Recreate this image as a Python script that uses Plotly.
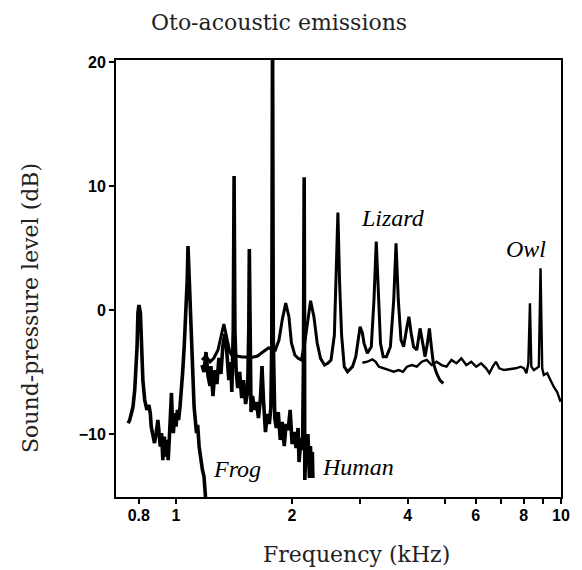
import plotly.graph_objects as go
import math

# ---------------- data (kHz, dB) ----------------
frog_khz = [0.751, 0.758, 0.766, 0.773, 0.781, 0.789, 0.792, 0.796, 0.801, 0.808,
            0.813, 0.820, 0.829, 0.840, 0.850, 0.857, 0.862, 0.870, 0.879, 0.888,
            0.897, 0.902, 0.910, 0.917, 0.924, 0.932, 0.939, 0.946, 0.954, 0.961,
            0.967, 0.973, 0.978, 0.984, 0.992, 1.000, 1.008, 1.015, 1.024, 1.032,
            1.040, 1.050, 1.061, 1.069, 1.074, 1.081, 1.090, 1.103, 1.114, 1.130,
            1.138, 1.148, 1.160, 1.171, 1.182, 1.189, 1.194]
frog_db = [-9.14, -8.87, -8.31, -7.80, -6.45, -4.27, -2.96, -0.24, 0.40, -0.24,
           -2.96, -5.65, -7.26, -8.06, -7.66, -8.31, -9.41, -10.22, -10.73, -9.92,
           -8.87, -9.68, -11.02, -9.92, -12.10, -10.22, -11.83, -10.48, -12.10, -10.22,
           -8.31, -6.69, -8.87, -9.92, -8.31, -9.41, -8.06, -8.87, -7.80, -6.69,
           -5.08, -2.96, -0.24, 2.42, 5.16, 2.82, -0.24, -4.27, -7.80, -9.92,
           -9.27, -11.02, -12.10, -12.90, -13.44, -14.25, -15.30]

human_khz = [1.168, 1.182, 1.196, 1.211, 1.225, 1.232, 1.247, 1.262, 1.277, 1.292,
             1.308, 1.323, 1.339, 1.355, 1.371, 1.387, 1.396, 1.408, 1.415, 1.422,
             1.433, 1.446, 1.463, 1.481, 1.498, 1.516, 1.534, 1.545, 1.550, 1.557,
             1.566, 1.580, 1.599, 1.618, 1.637, 1.657, 1.672, 1.687, 1.707, 1.727,
             1.747, 1.763, 1.773, 1.781, 1.789, 1.805, 1.821, 1.843, 1.865, 1.887,
             1.910, 1.932, 1.955, 1.979, 2.002, 2.026, 2.050, 2.075, 2.087, 2.112,
             2.131, 2.143, 2.152, 2.160, 2.175, 2.201, 2.221, 2.234, 2.247, 2.260,
             2.267]
human_db = [-4.44, -5.00, -3.39, -5.32, -6.13, -4.52, -6.94, -4.84, -5.97, -3.87,
            -5.16, -2.90, -1.94, -3.39, -5.65, -4.19, -6.61, -1.61, 10.81, -1.61,
            -5.00, -6.29, -5.00, -7.10, -5.65, -7.58, -6.61, -1.61, 4.92, -1.61,
            -8.23, -6.94, -8.06, -7.42, -8.71, -7.10, -4.52, -7.26, -9.84, -8.39,
            -9.19, -7.90, -2.42, 24.0, -2.42, -8.71, -9.52, -8.23, -10.48, -9.03,
            -10.97, -9.19, -9.68, -8.06, -10.81, -9.84, -11.13, -9.52, -12.26, -10.32,
            -11.29, -4.03, 10.70, -13.71, -11.13, -10.00, -13.55, -10.97, -12.58, -11.45,
            -13.55]

lizard_khz = [1.168, 1.196, 1.225, 1.254, 1.285, 1.308, 1.331, 1.355, 1.379, 1.412,
              1.446, 1.481, 1.516, 1.553, 1.589, 1.628, 1.667, 1.704, 1.737, 1.779,
              1.811, 1.851, 1.887, 1.927, 1.964, 1.994, 2.035, 2.075, 2.116, 2.159,
              2.201, 2.236, 2.281, 2.326, 2.373, 2.430, 2.478, 2.527, 2.578, 2.605,
              2.633, 2.660, 2.692, 2.735, 2.789, 2.873, 2.930, 3.007, 3.048, 3.079,
              3.140, 3.215, 3.267, 3.312, 3.357, 3.397, 3.452, 3.520, 3.604, 3.677,
              3.728, 3.779, 3.840, 3.902, 3.979, 4.026, 4.081, 4.140, 4.221, 4.304,
              4.374, 4.434, 4.497, 4.551, 4.605, 4.660, 4.752, 4.845, 4.944]
lizard_db = [-4.03, -3.71, -4.19, -3.87, -3.23, -2.26, -1.13, -2.26, -3.39, -3.87,
             -3.71, -3.79, -3.79, -3.87, -3.79, -3.71, -3.47, -3.23, -3.06, -3.15,
             -3.23, -2.42, -0.81, 0.56, -0.54, -2.66, -3.63, -3.90, -4.03, -2.66,
             -0.54, 0.75, -0.54, -2.66, -3.90, -4.44, -4.30, -4.03, -2.02, 2.18,
             7.86, 2.18, -2.02, -4.57, -4.98, -4.57, -3.77, -1.35, -1.85, -2.69,
             -3.49, -2.96, 0.81, 5.51, 0.81, -2.69, -3.77, -3.77, -2.96, 0.81,
             5.38, 0.81, -2.42, -2.96, -1.35, -0.54, -1.88, -2.96, -3.23, -1.48,
             -2.69, -3.77, -2.69, -1.48, -2.96, -4.30, -5.10, -5.65, -5.91]

owl_khz = [3.048, 3.140, 3.234, 3.298, 3.365, 3.466, 3.570, 3.677, 3.788, 3.886,
           3.979, 4.098, 4.221, 4.348, 4.479, 4.613, 4.752, 4.894, 5.041, 5.193,
           5.349, 5.510, 5.675, 5.846, 6.021, 6.202, 6.389, 6.515, 6.647, 6.779,
           6.912, 7.120, 7.334, 7.630, 7.860, 8.015, 8.130, 8.226, 8.305, 8.374,
           8.504, 8.641, 8.759, 8.848, 8.937, 9.023, 9.206, 9.388, 9.573, 9.766,
           9.900, 9.976]
owl_db = [-4.25, -4.17, -3.98, -4.17, -4.57, -4.70, -4.84, -4.98, -4.84, -4.98,
          -4.57, -4.44, -4.57, -4.17, -4.03, -4.44, -4.17, -4.44, -4.57, -4.03,
          -4.30, -3.90, -4.44, -4.17, -4.57, -4.30, -4.70, -5.10, -4.57, -4.17,
          -4.70, -4.84, -4.78, -4.70, -4.57, -4.70, -5.10, -4.30, 0.54, -4.57,
          -4.84, -4.70, -4.57, 3.36, -4.70, -5.24, -5.10, -5.65, -6.19, -6.59,
          -7.12, -7.40]

x_tickvals = [0.8, 1, 2, 3, 4, 5, 6, 7, 8, 9, 10]
x_ticktext = ["0.8", "1", "2", "", "4", "", "6", "", "8", "", "10"]
y_tickvals = [-10, 0, 10, 20]
y_ticktext = ["\u221210", "0", "10", "20"]

species_labels = ["Frog", "Human", "Lizard", "Owl"]
label_khz = [1.232, 2.363, 2.995, 7.11]
label_db = [-12.8, -12.66, 7.42, 4.92]

# ---------------- figure ----------------
fig = go.Figure()
series = [(frog_khz, frog_db, 3.6), (human_khz, human_db, 3.6),
          (lizard_khz, lizard_db, 3.0), (owl_khz, owl_db, 2.4)]
for xs, ys, w in series:
    fig.add_trace(go.Scatter(x=xs, y=ys, mode="lines",
                             line=dict(color="black", width=w),
                             hoverinfo="skip", showlegend=False))

for txt, fx, fy in zip(species_labels, label_khz, label_db):
    fig.add_annotation(x=math.log10(fx), y=fy, xref="x", yref="y", text=txt,
                       showarrow=False, xanchor="left", yanchor="middle",
                       font=dict(family="Liberation Serif", size=24, color="black",
                                 style="italic"))

serif = "DejaVu Serif"
fig.add_annotation(text="Oto-acoustic emissions", xref="paper", yref="paper",
                   x=0.3667, y=1.0847, showarrow=False, xanchor="center", yanchor="middle",
                   font=dict(family=serif, size=22, color="#222"))
fig.add_annotation(text="Frequency (kHz)", xref="paper", yref="paper",
                   x=0.54, y=-0.1327, showarrow=False, xanchor="center", yanchor="middle",
                   font=dict(family=serif, size=22, color="#222"))
fig.add_annotation(text="Sound-pressure level (dB)", xref="paper", yref="paper",
                   x=-0.1911, y=0.4325, showarrow=False, xanchor="center", yanchor="middle",
                   textangle=-90, font=dict(family=serif, size=22, color="#222"))

fig.update_xaxes(type="log", range=[-0.156, 1.0], tickmode="array",
                 tickvals=x_tickvals, ticktext=x_ticktext,
                 ticks="outside", ticklen=5, tickwidth=2, tickcolor="black",
                 showline=True, linewidth=2, linecolor="black", mirror=True,
                 showgrid=False, zeroline=False, ticklabelstandoff=-2,
                 tickfont=dict(family="Liberation Sans", size=16, color="black", weight="bold"))
fig.update_yaxes(range=[-15.08, 20.16], tickmode="array",
                 tickvals=y_tickvals, ticktext=y_ticktext,
                 ticks="outside", ticklen=5, tickwidth=2, tickcolor="black",
                 showline=True, linewidth=2, linecolor="black", mirror=True,
                 showgrid=False, zeroline=False,
                 tickfont=dict(family="Liberation Sans", size=16, color="black", weight="bold"))

fig.update_layout(width=582, height=570, autosize=False,
                  margin=dict(l=116, r=16, t=60, b=73),
                  plot_bgcolor="white", paper_bgcolor="white")

fig.write_html("out.html")
